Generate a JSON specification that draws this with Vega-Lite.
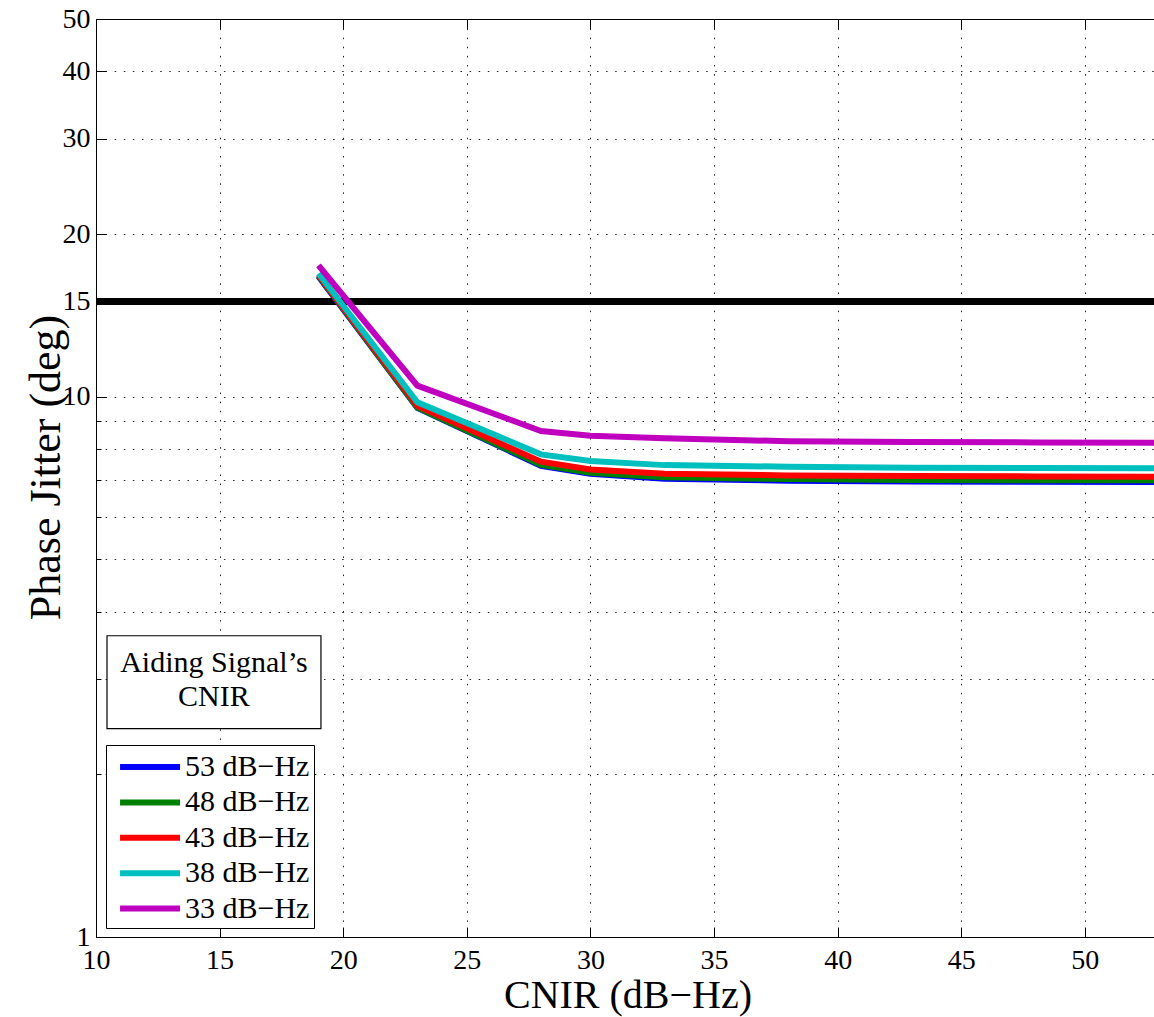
{
  "$schema": "https://vega.github.io/schema/vega-lite/v6.json",
  "width": 1063,
  "height": 918,
  "autosize": "none",
  "padding": {"left": 96, "top": 19, "right": 0, "bottom": 80},
  "background": "white",
  "config": {
    "font": "Liberation Serif",
    "axis": {"labelFont": "Liberation Serif", "titleFont": "Liberation Serif"},
    "legend": {"labelFont": "Liberation Serif", "titleFont": "Liberation Serif"},
    "view": {"stroke": "black", "strokeWidth": 1}
  },
  "datasets": {
    "curves": [
      {"cnir": 19, "jitter": 16.7, "series": "53 dB−Hz"},
      {"cnir": 23, "jitter": 9.53, "series": "53 dB−Hz"},
      {"cnir": 28, "jitter": 7.45, "series": "53 dB−Hz"},
      {"cnir": 30, "jitter": 7.2, "series": "53 dB−Hz"},
      {"cnir": 33, "jitter": 7.05, "series": "53 dB−Hz"},
      {"cnir": 38, "jitter": 6.99, "series": "53 dB−Hz"},
      {"cnir": 43, "jitter": 6.97, "series": "53 dB−Hz"},
      {"cnir": 48, "jitter": 6.96, "series": "53 dB−Hz"},
      {"cnir": 53, "jitter": 6.95, "series": "53 dB−Hz"},
      {"cnir": 19, "jitter": 16.75, "series": "48 dB−Hz"},
      {"cnir": 23, "jitter": 9.55, "series": "48 dB−Hz"},
      {"cnir": 28, "jitter": 7.48, "series": "48 dB−Hz"},
      {"cnir": 30, "jitter": 7.23, "series": "48 dB−Hz"},
      {"cnir": 33, "jitter": 7.09, "series": "48 dB−Hz"},
      {"cnir": 38, "jitter": 7.04, "series": "48 dB−Hz"},
      {"cnir": 43, "jitter": 7.01, "series": "48 dB−Hz"},
      {"cnir": 48, "jitter": 7.0, "series": "48 dB−Hz"},
      {"cnir": 53, "jitter": 7.0, "series": "48 dB−Hz"},
      {"cnir": 19, "jitter": 16.8, "series": "43 dB−Hz"},
      {"cnir": 23, "jitter": 9.62, "series": "43 dB−Hz"},
      {"cnir": 28, "jitter": 7.58, "series": "43 dB−Hz"},
      {"cnir": 30, "jitter": 7.33, "series": "43 dB−Hz"},
      {"cnir": 33, "jitter": 7.2, "series": "43 dB−Hz"},
      {"cnir": 38, "jitter": 7.15, "series": "43 dB−Hz"},
      {"cnir": 43, "jitter": 7.13, "series": "43 dB−Hz"},
      {"cnir": 48, "jitter": 7.12, "series": "43 dB−Hz"},
      {"cnir": 53, "jitter": 7.11, "series": "43 dB−Hz"},
      {"cnir": 19, "jitter": 16.9, "series": "38 dB−Hz"},
      {"cnir": 23, "jitter": 9.76, "series": "38 dB−Hz"},
      {"cnir": 28, "jitter": 7.82, "series": "38 dB−Hz"},
      {"cnir": 30, "jitter": 7.6, "series": "38 dB−Hz"},
      {"cnir": 33, "jitter": 7.47, "series": "38 dB−Hz"},
      {"cnir": 38, "jitter": 7.42, "series": "38 dB−Hz"},
      {"cnir": 43, "jitter": 7.39, "series": "38 dB−Hz"},
      {"cnir": 48, "jitter": 7.38, "series": "38 dB−Hz"},
      {"cnir": 53, "jitter": 7.37, "series": "38 dB−Hz"},
      {"cnir": 19, "jitter": 17.5, "series": "33 dB−Hz"},
      {"cnir": 23, "jitter": 10.48, "series": "33 dB−Hz"},
      {"cnir": 28, "jitter": 8.64, "series": "33 dB−Hz"},
      {"cnir": 30, "jitter": 8.47, "series": "33 dB−Hz"},
      {"cnir": 33, "jitter": 8.38, "series": "33 dB−Hz"},
      {"cnir": 38, "jitter": 8.27, "series": "33 dB−Hz"},
      {"cnir": 43, "jitter": 8.24, "series": "33 dB−Hz"},
      {"cnir": 48, "jitter": 8.23, "series": "33 dB−Hz"},
      {"cnir": 53, "jitter": 8.22, "series": "33 dB−Hz"}
    ],
    "note": [{"label": "Aiding Signal’s\nCNIR"}]
  },
  "layer": [
    {
      "data": {"name": "curves"},
      "mark": {"type": "rule", "strokeWidth": 6, "color": "black"},
      "encoding": {
        "y": {"datum": 15, "type": "quantitative", "scale": {"type": "log", "domain": [1, 50], "nice": false}, "axis": null}
      }
    },
    {
      "data": {"name": "curves"},
      "mark": {"type": "line", "strokeWidth": 6, "strokeCap": "butt", "clip": true},
      "encoding": {
        "x": {
          "field": "cnir", "type": "quantitative",
          "scale": {"domain": [10, 53], "nice": false, "zero": false},
          "axis": {
            "orient": "bottom",
            "values": [10, 15, 20, 25, 30, 35, 40, 45, 50],
            "tickSize": -10, "tickColor": "black", "tickWidth": 1,
            "domainColor": "black", "domainWidth": 1,
            "labelFont": "Liberation Serif",
            "labelFontSize": 28, "labelColor": "black", "labelPadding": 19, "labelFlush": false,
            "grid": true, "gridDash": [1.5, 7.6], "gridColor": "#222", "gridWidth": 1,
            "title": "CNIR (dB−Hz)", "titleFont": "Liberation Serif", "titleFontSize": 40, "titleFontWeight": "normal", "titleColor": "black",
            "titleBaseline": "alphabetic", "titleY": 70
          }
        },
        "y": {
          "field": "jitter", "type": "quantitative",
          "scale": {"type": "log", "domain": [1, 50], "nice": false},
          "axis": {
            "orient": "left",
            "values": [1, 10, 15, 20, 30, 40, 50],
            "format": "d",
            "tickSize": -10, "tickColor": "black", "tickWidth": 1,
            "domainColor": "black", "domainWidth": 1,
            "labelFont": "Liberation Serif",
            "labelFontSize": 28, "labelColor": "black", "labelPadding": 16, "labelFlush": false,
            "grid": true, "gridDash": [1.5, 7.6], "gridColor": "#222", "gridWidth": 1,
            "title": "Phase Jitter (deg)", "titleFont": "Liberation Serif", "titleFontSize": 44, "titleFontWeight": "normal", "titleColor": "black",
            "titleBaseline": "alphabetic", "titleX": -37, "titleY": 448, "titleAngle": -90
          }
        },
        "color": {
          "field": "series", "type": "nominal",
          "scale": {
            "domain": ["53 dB−Hz", "48 dB−Hz", "43 dB−Hz", "38 dB−Hz", "33 dB−Hz"],
            "range": ["#0000FF", "#008000", "#FF0000", "#00BFBF", "#BF00BF"]
          },
          "legend": {
            "orient": "none", "legendX": 10, "legendY": 726,
            "title": null,
            "strokeColor": "black", "fillColor": "white", "padding": 4,
            "symbolType": "M-0.53,0H3.47", "symbolSize": 900, "symbolStrokeWidth": 6,
            "labelFont": "Liberation Serif",
            "labelFontSize": 30, "labelColor": "black", "labelOffset": 39, "rowPadding": 2.4,
            "labelLimit": 300
          }
        }
      }
    },
    {
      "data": {"name": "note"},
      "mark": {"type": "rect", "fill": "white", "stroke": "black", "strokeWidth": 1.2},
      "encoding": {
        "x": {
          "datum": 10.445, "type": "quantitative",
          "scale": {"domain": [10, 53], "nice": false, "zero": false},
          "axis": {
            "orient": "top",
            "values": [10, 15, 20, 25, 30, 35, 40, 45, 50],
            "tickSize": -10, "tickColor": "black", "labels": false, "grid": false,
            "domainColor": "black", "title": null
          }
        },
        "x2": {"datum": 19.1},
        "y": {
          "datum": 3.61, "type": "quantitative",
          "scale": {"type": "log", "domain": [1, 50], "nice": false},
          "axis": {
            "orient": "left",
            "values": [2, 3, 4, 5, 6, 7, 8, 9],
            "tickSize": -5, "tickColor": "black", "labels": false,
            "grid": true, "gridDash": [1.5, 7.6], "gridColor": "#222", "gridWidth": 1,
            "domain": false, "title": null
          }
        },
        "y2": {"datum": 2.43}
      }
    },
    {
      "data": {"name": "note"},
      "mark": {"type": "text", "fontSize": 30, "color": "black", "lineBreak": "\n", "lineHeight": 34, "align": "center", "baseline": "middle"},
      "encoding": {
        "x": {"datum": 14.77, "type": "quantitative", "axis": null},
        "y": {"datum": 3.215, "type": "quantitative", "axis": null},
        "text": {"field": "label"}
      }
    }
  ],
  "resolve": {"axis": {"x": "independent", "y": "independent"}}
}
